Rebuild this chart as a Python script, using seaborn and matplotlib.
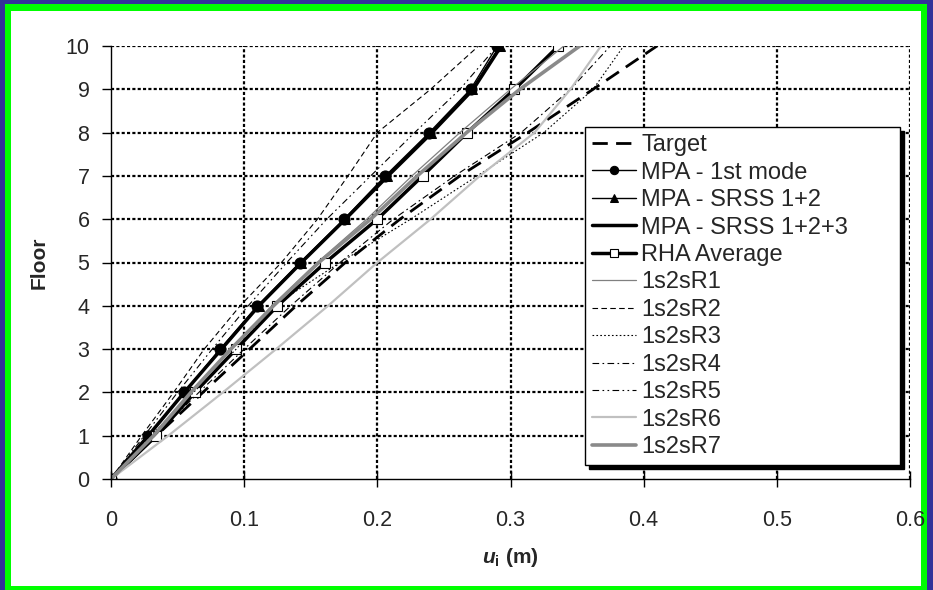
import matplotlib
matplotlib.use("Agg")
import matplotlib.pyplot as plt
from matplotlib.patches import Rectangle
import seaborn as sns
import pandas as pd

# Storey levels and lateral displacement profiles (m)
floors = [0, 1, 2, 3, 4, 5, 6, 7, 8, 9, 10]
target = [0, 0.034, 0.069, 0.104, 0.139, 0.176, 0.217, 0.262, 0.313, 0.362, 0.410]
mpa_1st = [0, 0.028, 0.055, 0.082, 0.110, 0.142, 0.175, 0.206, 0.239, 0.270, 0.290]
mpa_srss12 = [0, 0.028, 0.055, 0.082, 0.111, 0.143, 0.176, 0.207, 0.240, 0.271, 0.292]
mpa_srss123 = [0, 0.028, 0.055, 0.083, 0.111, 0.143, 0.176, 0.208, 0.241, 0.272, 0.293]
rha_avg = [0, 0.034, 0.063, 0.094, 0.125, 0.161, 0.200, 0.234, 0.2675, 0.303, 0.336]
r1 = [0, 0.031, 0.060, 0.090, 0.121, 0.155, 0.192, 0.226, 0.262, 0.300, 0.340]
r2 = [0, 0.023, 0.047, 0.070, 0.097, 0.128, 0.155, 0.178, 0.200, 0.240, 0.276]
r3 = [0, 0.030, 0.062, 0.094, 0.122, 0.172, 0.225, 0.275, 0.325, 0.362, 0.385]
r4 = [0, 0.033, 0.066, 0.100, 0.135, 0.172, 0.212, 0.258, 0.308, 0.345, 0.375]
r5 = [0, 0.025, 0.050, 0.076, 0.103, 0.132, 0.162, 0.195, 0.228, 0.262, 0.290]
r6 = [0, 0.043, 0.084, 0.124, 0.163, 0.200, 0.240, 0.277, 0.318, 0.345, 0.368]
r7 = [0, 0.032, 0.060, 0.090, 0.122, 0.156, 0.195, 0.230, 0.267, 0.307, 0.352]

x_ticks = [0, 0.1, 0.2, 0.3, 0.4, 0.5, 0.6]
x_tick_labels = ["0", "0.1", "0.2", "0.3", "0.4", "0.5", "0.6"]

sns.set_theme(style="white")
plt.rcParams["font.family"] = ["Liberation Sans", "DejaVu Sans"]
plt.rcParams["mathtext.fontset"] = "custom"
plt.rcParams["mathtext.it"] = "Liberation Sans:italic:bold"
plt.rcParams["mathtext.rm"] = "Liberation Sans:bold"
plt.rcParams["mathtext.bf"] = "Liberation Sans:bold"

fig = plt.figure(figsize=(9.33, 5.90), dpi=100)
fig.patch.set_facecolor("#333399")
W, H = 933.0, 590.0
fig.patches.append(Rectangle((5 / W, 0), 922 / W, 1 - 4 / H, transform=fig.transFigure,
                             facecolor="#00ff00", edgecolor="none", zorder=-10))
fig.patches.append(Rectangle((11 / W, 4 / H), 910 / W, 1 - 15 / H, transform=fig.transFigure,
                             facecolor="white", edgecolor="none", zorder=-9))

ax = fig.add_axes([111 / W, 1 - 479 / H, 799 / W, 433 / H])
ax.set_facecolor("none")

series = [
    ("Target", target, dict(color="black", lw=2.0, linestyle=(0, (5.5, 3)))),
    ("MPA - 1st mode", mpa_1st, dict(color="black", lw=1.0, marker="o", markersize=8,
                                      markeredgecolor="black", markerfacecolor="black")),
    ("MPA - SRSS 1+2", mpa_srss12, dict(color="black", lw=1.0, marker="^", markersize=7,
                                         markeredgecolor="black", markerfacecolor="black")),
    ("MPA - SRSS 1+2+3", mpa_srss123, dict(color="black", lw=2.5)),
    ("RHA Average", rha_avg, dict(color="black", lw=2.5, marker="s", markersize=7,
                                  markerfacecolor="white", markeredgecolor="black",
                                  markeredgewidth=0.8)),
    ("1s2sR1", r1, dict(color="#808080", lw=0.9)),
    ("1s2sR2", r2, dict(color="black", lw=0.8, linestyle=(0, (5, 3)))),
    ("1s2sR3", r3, dict(color="black", lw=0.8, linestyle=(0, (1.5, 2)))),
    ("1s2sR4", r4, dict(color="black", lw=0.8, linestyle=(0, (6, 3, 1.5, 3)))),
    ("1s2sR5", r5, dict(color="black", lw=0.8, linestyle=(0, (6, 3, 1.5, 3, 1.5, 3)))),
    ("1s2sR6", r6, dict(color="#c0c0c0", lw=1.6)),
    ("1s2sR7", r7, dict(color="#8a8a8a", lw=2.6)),
]

for name, values, style in series:
    df = pd.DataFrame({"u": values, "floor": floors})
    sns.lineplot(data=df, x="u", y="floor", sort=False, estimator=None, ax=ax,
                 label=name, **style)

ax.set_xlim(0, 0.6)
ax.set_ylim(0, 10)
ax.set_xticks(x_ticks)
ax.set_xticklabels(x_tick_labels)
ax.set_yticks(floors)

grid_kw = dict(color="black", lw=1.6, linestyle=(0, (1.4, 1.0)), zorder=0.5)
for xv in x_ticks[1:]:
    ax.axvline(xv, **grid_kw)
for yv in floors[1:]:
    ax.axhline(yv, **grid_kw)

for side in ["top", "right"]:
    ax.spines[side].set_visible(False)
for side in ["left", "bottom"]:
    ax.spines[side].set_color("black")
    ax.spines[side].set_linewidth(1.0)

ax.tick_params(axis="y", direction="out", length=6.5, width=1, color="black",
               labelsize=15.5, pad=9, left=True)
ax.tick_params(axis="x", direction="inout", length=12, width=1, color="black",
               labelsize=15.5, pad=16, bottom=True)

ax.set_ylabel("Floor", fontsize=15, fontweight="bold")
ax.set_xlabel(r"$u_{\mathrm{i}}$ (m)", fontsize=15, fontweight="bold")
ax.yaxis.set_label_coords(-0.078, 0.5)
ax.xaxis.set_label_coords(0.5, -0.155)

leg = ax.legend(loc="lower left", bbox_to_anchor=(0.593, 0.032, 0.394, 0.778),
                mode="expand", fontsize=17, frameon=True, fancybox=False,
                shadow={"color": "black", "alpha": 1.0, "ox": 3, "oy": -3},
                handlelength=1.85, handletextpad=0.25, labelspacing=0.23,
                borderpad=0.3, borderaxespad=0, markerscale=0.75)
leg.get_frame().set_edgecolor("black")
leg.get_frame().set_linewidth(1.0)
leg.get_frame().set_facecolor("white")

fig.savefig("out.png", dpi=100, facecolor=fig.get_facecolor())
